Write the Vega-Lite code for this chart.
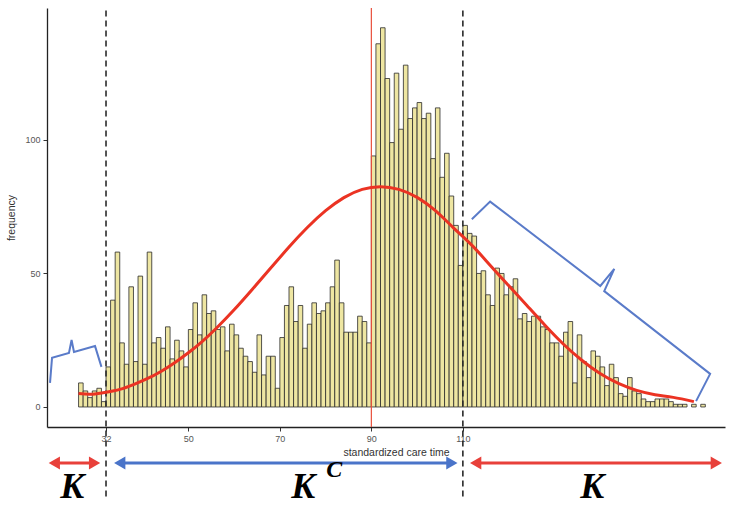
{
  "$schema": "https://vega.github.io/schema/vega-lite/v6.json",
  "autosize": {"type": "none"},
  "width": 678,
  "height": 419,
  "padding": {"left": 47, "top": 8, "right": 8, "bottom": 82},
  "background": "white",
  "view": {"stroke": null},
  "config": {"font": "Liberation Sans"},
  "datasets": {
    "bars": [
      {"x":26,"x2":27,"y":9},{"x":27,"x2":28,"y":6},{"x":28,"x2":29,"y":3.5},{"x":29,"x2":30,"y":6},{"x":30,"x2":31,"y":7},{"x":31,"x2":32,"y":2},
      {"x":32,"x2":33,"y":15},{"x":33,"x2":34,"y":40},{"x":34,"x2":35,"y":58},{"x":35,"x2":36,"y":24},{"x":36,"x2":37,"y":16},{"x":37,"x2":38,"y":45},
      {"x":38,"x2":39,"y":17},{"x":39,"x2":40,"y":49},{"x":40,"x2":41,"y":16},{"x":41,"x2":42,"y":58},{"x":42,"x2":43,"y":24},{"x":43,"x2":44,"y":26},
      {"x":44,"x2":45,"y":22},{"x":45,"x2":46,"y":30},{"x":46,"x2":47,"y":18},{"x":47,"x2":48,"y":25},{"x":48,"x2":49,"y":21},{"x":49,"x2":50,"y":15},
      {"x":50,"x2":51,"y":29},{"x":51,"x2":52,"y":39},{"x":52,"x2":53,"y":27},{"x":53,"x2":54,"y":42},{"x":54,"x2":55,"y":35},{"x":55,"x2":56,"y":36},
      {"x":56,"x2":57,"y":29},{"x":57,"x2":58,"y":30},{"x":58,"x2":59,"y":21},{"x":59,"x2":60,"y":31},{"x":60,"x2":61,"y":27},{"x":61,"x2":62,"y":22},
      {"x":62,"x2":63,"y":19},{"x":63,"x2":64,"y":17},{"x":64,"x2":65,"y":13},{"x":65,"x2":66,"y":27},{"x":66,"x2":67,"y":12},{"x":67,"x2":68,"y":19},
      {"x":68,"x2":69,"y":19},{"x":69,"x2":70,"y":7},{"x":70,"x2":71,"y":26},{"x":71,"x2":72,"y":38},{"x":72,"x2":73,"y":45},{"x":73,"x2":74,"y":32},
      {"x":74,"x2":75,"y":38},{"x":75,"x2":76,"y":22},{"x":76,"x2":77,"y":31},{"x":77,"x2":78,"y":39},{"x":78,"x2":79,"y":35},{"x":79,"x2":80,"y":36},
      {"x":80,"x2":81,"y":39},{"x":81,"x2":82,"y":45},{"x":82,"x2":83,"y":55},{"x":83,"x2":84,"y":39},{"x":84,"x2":85,"y":28},{"x":85,"x2":86,"y":28},
      {"x":86,"x2":87,"y":28},{"x":87,"x2":88,"y":34},{"x":88,"x2":89,"y":32},{"x":89,"x2":90,"y":24},{"x":90,"x2":91,"y":94},{"x":91,"x2":92,"y":136},
      {"x":92,"x2":93,"y":142},{"x":93,"x2":94,"y":123},{"x":94,"x2":95,"y":99},{"x":95,"x2":96,"y":125},{"x":96,"x2":97,"y":104},{"x":97,"x2":98,"y":128},
      {"x":98,"x2":99,"y":108},{"x":99,"x2":100,"y":112},{"x":100,"x2":101,"y":114},{"x":101,"x2":102,"y":108},{"x":102,"x2":103,"y":110},{"x":103,"x2":104,"y":93},
      {"x":104,"x2":105,"y":112},{"x":105,"x2":106,"y":86},{"x":106,"x2":107,"y":95},{"x":107,"x2":108,"y":79},{"x":108,"x2":109,"y":68},{"x":109,"x2":110,"y":53},
      {"x":110,"x2":111,"y":68},{"x":111,"x2":112,"y":65},{"x":112,"x2":113,"y":64},{"x":113,"x2":114,"y":50},{"x":114,"x2":115,"y":51},{"x":115,"x2":116,"y":42},
      {"x":116,"x2":117,"y":38},{"x":117,"x2":118,"y":52},{"x":118,"x2":119,"y":50},{"x":119,"x2":120,"y":42},{"x":120,"x2":121,"y":45},{"x":121,"x2":122,"y":48},
      {"x":122,"x2":123,"y":33},{"x":123,"x2":124,"y":35},{"x":124,"x2":125,"y":32},{"x":125,"x2":126,"y":34},{"x":126,"x2":127,"y":34},{"x":127,"x2":128,"y":30},
      {"x":128,"x2":129,"y":29},{"x":129,"x2":130,"y":24},{"x":130,"x2":131,"y":24},{"x":131,"x2":132,"y":19},{"x":132,"x2":133,"y":28},{"x":133,"x2":134,"y":32},
      {"x":134,"x2":135,"y":9},{"x":135,"x2":136,"y":27},{"x":136,"x2":137,"y":17},{"x":137,"x2":138,"y":11},{"x":138,"x2":139,"y":21},{"x":139,"x2":140,"y":19},
      {"x":140,"x2":141,"y":15},{"x":141,"x2":142,"y":8},{"x":142,"x2":143,"y":16},{"x":143,"x2":144,"y":11},{"x":144,"x2":145,"y":5},{"x":145,"x2":146,"y":4},
      {"x":146,"x2":147,"y":11},{"x":147,"x2":148,"y":6},{"x":148,"x2":149,"y":5},{"x":149,"x2":150,"y":3},{"x":150,"x2":151,"y":2},{"x":151,"x2":152,"y":2},
      {"x":152,"x2":153,"y":3},{"x":153,"x2":154,"y":3},{"x":154,"x2":155,"y":3},{"x":155,"x2":156,"y":2},{"x":156,"x2":157,"y":1},{"x":157,"x2":158,"y":1},
      {"x":158,"x2":159,"y":1},{"x":160,"x2":161,"y":1},{"x":162,"x2":163,"y":1}
    ],
    "curve": [
      {"x":26,"y":5},{"x":29,"y":4.8},{"x":32,"y":5.5},{"x":35,"y":6.6},{"x":38,"y":8.4},{"x":41,"y":10.6},{"x":44,"y":13.3},{"x":47,"y":16.6},
      {"x":50,"y":20.3},{"x":53,"y":24.5},{"x":56,"y":29.3},{"x":60,"y":36.4},{"x":64,"y":44.1},{"x":68,"y":52},{"x":72,"y":59.9},{"x":76,"y":67.2},
      {"x":80,"y":73.5},{"x":84,"y":78.4},{"x":88,"y":81.5},{"x":92,"y":82.5},{"x":96,"y":81.5},{"x":100,"y":78.5},{"x":104,"y":73.5},{"x":108,"y":67},
      {"x":112,"y":60.5},{"x":116,"y":53},{"x":120,"y":45.5},{"x":124,"y":38},{"x":128,"y":30.5},{"x":132,"y":23.5},{"x":136,"y":17.5},{"x":140,"y":12.5},
      {"x":144,"y":8.8},{"x":148,"y":6.2},{"x":152,"y":4.6},{"x":156,"y":3.6},{"x":160.5,"y":2}
    ],
    "redline": [{"x":90,"y":149.4,"y2":-7.5}],
    "dashed": [{"x":32,"y":148.5,"y2":-35},{"x":110,"y":148.5,"y2":-35}],
    "braces": [
      {"g":"a","o":1,"x":19.76,"y":9},{"g":"a","o":2,"x":20.2,"y":18.4},{"g":"a","o":3,"x":23.9,"y":20.2},{"g":"a","o":4,"x":24.47,"y":25.1},
      {"g":"a","o":5,"x":25.0,"y":20.6},{"g":"a","o":6,"x":29.6,"y":22.8},{"g":"a","o":7,"x":31.0,"y":15},
      {"g":"b","o":1,"x":111.96,"y":70.3},{"g":"b","o":2,"x":115.96,"y":76.9},{"g":"b","o":3,"x":140.04,"y":45.3},{"g":"b","o":4,"x":143.1,"y":51.7},
      {"g":"b","o":5,"x":140.9,"y":43.4},{"g":"b","o":6,"x":164.05,"y":12.4},{"g":"b","o":7,"x":160.98,"y":2.2}
    ],
    "arrows": [
      {"set":"K","x":20.7,"x2":29.5,"y":-21},
      {"set":"KC","x":35.0,"x2":107.6,"y":-21},
      {"set":"K","x":112.8,"x2":165.4,"y":-21}
    ],
    "heads": [
      {"set":"K","dir":"left","x":20.7,"y":-21},{"set":"K","dir":"right","x":29.5,"y":-21},
      {"set":"KC","dir":"left","x":35.0,"y":-21},{"set":"KC","dir":"right","x":107.6,"y":-21},
      {"set":"K","dir":"left","x":112.8,"y":-21},{"set":"K","dir":"right","x":165.4,"y":-21}
    ],
    "labels": [
      {"t":"K","x":24.6,"y":-30},{"t":"K","x":75.1,"y":-30},{"t":"K","x":138.3,"y":-30}
    ],
    "sup": [{"t":"C","x":81.9,"y":-23.5}]
  },
  "encoding": {
    "x": {
      "field": "x", "type": "quantitative",
      "scale": {"domain": [19.1, 167.3], "nice": false, "zero": false},
      "axis": {
        "values": [32, 50, 70, 90, 110], "grid": false, "title": "standardized care time",
        "labelFontSize": 9, "labelColor": "#555555", "labelPadding": 3,
        "tickColor": "#333333", "tickSize": 4, "domainColor": "#222222", "domainWidth": 1.3,
        "titleFontSize": 10.5, "titleFontWeight": "normal", "titleColor": "#333333", "titlePadding": 4, "titleX": 349
      }
    },
    "y": {
      "field": "y", "type": "quantitative",
      "scale": {"domain": [-7.5, 149.4], "nice": false, "zero": false},
      "axis": {
        "values": [0, 50, 100], "grid": false, "title": "frequency",
        "labelFontSize": 9, "labelColor": "#555555", "labelPadding": 3,
        "tickColor": "#333333", "tickSize": 4, "domainColor": "#222222", "domainWidth": 1.3,
        "titleFontSize": 10.5, "titleFontWeight": "normal", "titleColor": "#333333", "titlePadding": 8
      }
    }
  },
  "layer": [
    {
      "data": {"name": "bars"},
      "mark": {"type": "bar", "fill": "#EEE6A2", "stroke": "#2a2a2a", "strokeWidth": 0.8},
      "encoding": {"x2": {"field": "x2"}, "y2": {"datum": 0}}
    },
    {
      "data": {"name": "redline"},
      "mark": {"type": "rule", "color": "#E8503C", "strokeWidth": 1.2},
      "encoding": {"y2": {"field": "y2"}}
    },
    {
      "data": {"name": "dashed"},
      "mark": {"type": "rule", "color": "#2a2a2a", "strokeWidth": 1.6, "strokeDash": [6, 4]},
      "encoding": {"y2": {"field": "y2"}}
    },
    {
      "data": {"name": "curve"},
      "mark": {"type": "line", "color": "#EB3323", "strokeWidth": 3, "interpolate": "natural"},
      "encoding": {}
    },
    {
      "data": {"name": "braces"},
      "mark": {"type": "line", "color": "#5A7BC9", "strokeWidth": 2},
      "encoding": {"detail": {"field": "g"}, "order": {"field": "o", "type": "quantitative"}}
    },
    {
      "data": {"name": "arrows"},
      "mark": {"type": "rule", "strokeWidth": 3},
      "encoding": {
        "x2": {"field": "x2"},
        "color": {"field": "set", "type": "nominal", "scale": {"domain": ["K", "KC"], "range": ["#E8403A", "#4A74C9"]}, "legend": null}
      }
    },
    {
      "data": {"name": "heads"},
      "mark": {"type": "point", "filled": true, "size": 170, "opacity": 1},
      "encoding": {
        "color": {"field": "set", "type": "nominal", "scale": {"domain": ["K", "KC"], "range": ["#E8403A", "#4A74C9"]}, "legend": null},
        "shape": {"field": "dir", "type": "nominal", "scale": {"domain": ["left", "right"], "range": ["triangle-left", "triangle-right"]}, "legend": null}
      }
    },
    {
      "data": {"name": "labels"},
      "mark": {"type": "text", "font": "Liberation Serif", "fontStyle": "italic", "fontWeight": "bold", "fontSize": 36, "color": "#000000", "baseline": "middle", "align": "center"},
      "encoding": {"text": {"field": "t"}}
    },
    {
      "data": {"name": "sup"},
      "mark": {"type": "text", "font": "Liberation Serif", "fontStyle": "italic", "fontWeight": "bold", "fontSize": 24, "color": "#000000", "baseline": "middle", "align": "center"},
      "encoding": {"text": {"field": "t"}}
    }
  ]
}
